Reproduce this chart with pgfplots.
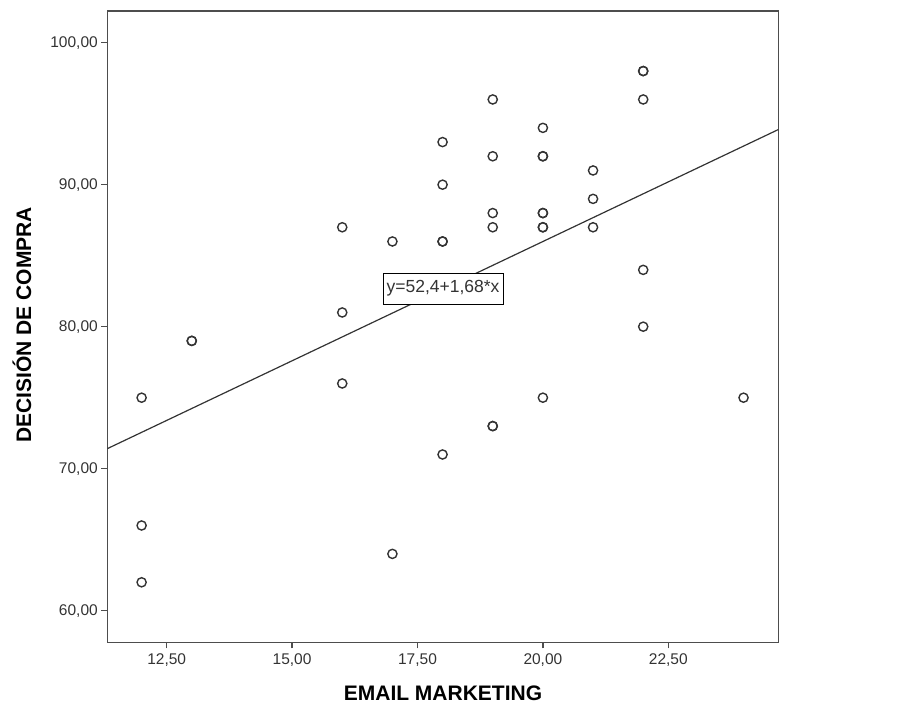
\documentclass[border=0pt]{standalone}
\usepackage{pgfplots}
\pgfplotsset{compat=1.18}
\usepackage{fontspec}
\setmainfont{Liberation Sans}
\definecolor{axisgray}{HTML}{4D4D4D}
\definecolor{markgray}{HTML}{333333}
\definecolor{textgray}{HTML}{333333}

% EMAIL MARKETING vs DECISION DE COMPRA (repeated rows are coincident cases)
\pgfplotstableread{
x  y
12 75
12 66
12 62
13 79
13 79
16 87
16 81
16 76
17 86
17 64
18 93
18 90
18 86
18 86
18 71
19 96
19 92
19 88
19 87
19 73
19 73
20 94
20 92
20 92
20 88
20 88
20 87
20 87
20 75
21 91
21 89
21 87
22 98
22 98
22 96
22 84
22 80
24 75
}\casos

% fitted line y = 52.4 + 1.68 x at the axis limits
\pgfplotstableread{
x      y
11.316 71.41
24.693 93.88
}\ajuste

\begin{document}
\begin{tikzpicture}
\path[use as bounding box] (0pt,0pt) rectangle (903pt,709pt);
\begin{axis}[
  at={(107.3pt,66.7pt)}, anchor=south west,
  width=671pt, height=631.3pt, scale only axis,
  xmin=11.316, xmax=24.693, ymin=57.775, ymax=102.23,
  xtick={12.5,15,17.5,20,22.5},
  ytick={60,70,80,90,100},
  xtick pos=lower, ytick pos=left, tick align=outside,
  major tick length=6pt,
  axis line style={axisgray, line width=1.3pt},
  every tick/.style={axisgray, line width=1.3pt},
  tick label style={font=\fontsize{15.5}{18}\selectfont, text=textgray},
  xticklabel style={yshift=-2pt},
  /pgf/number format/.cd, fixed, fixed zerofill, precision=2, use comma,
  assume math mode=true,
  /pgfplots/.cd,
  clip=true,
]
\addplot[draw=markgray, line width=1.2pt, forget plot] table[x=x, y=y] {\ajuste};
\addplot[only marks, mark=o, mark size=4.6pt,
  mark options={draw=markgray, fill=white, line width=1.4pt}]
  table[x=x, y=y] {\casos};
\node[draw=black, fill=white, line width=0.9pt, inner sep=0pt,
  minimum width=120pt, minimum height=31pt,
  font=\fontsize{17.5}{20}\selectfont, text=textgray]
  at (axis cs:18.01,82.68) {y=52,4+1,68*x};
\node[anchor=west, font=\fontsize{14.5}{17}\selectfont, text=black,
  inner sep=0pt, xshift=1pt, yshift=-15pt]
  at (rel axis cs:1,1) {R\textsuperscript{2} Lineal = 0,285};
\end{axis}
\node[rotate=90, font=\bfseries\fontsize{21}{24}\selectfont] at (22pt,384pt) {DECISIÓN DE COMPRA};
\node[font=\bfseries\fontsize{21}{24}\selectfont] at (443pt,16pt) {EMAIL MARKETING};
\end{tikzpicture}
\end{document}
